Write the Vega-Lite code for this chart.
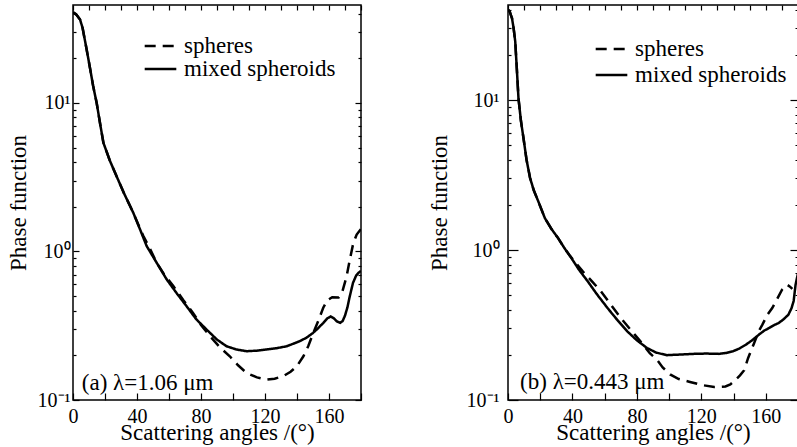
{
  "$schema": "https://vega.github.io/schema/vega-lite/v6.json",
  "padding": {"left": 6, "top": -2, "right": 0, "bottom": 0},
  "spacing": 62,
  "background": "white",
  "config": {
    "font": "Liberation Serif",
    "view": {"stroke": "black", "strokeWidth": 1.5},
    "axis": {"domain": false, "grid": false, "tickColor": "black", "tickWidth": 1.2, "labelColor": "black", "titleColor": "black", "labelFont": "Liberation Serif", "titleFont": "Liberation Serif", "titleFontWeight": "normal", "labelFontSize": 20, "titleFontSize": 23},
    "legend": {"labelFont": "Liberation Serif", "labelFontSize": 23, "labelColor": "black", "symbolStrokeColor": "black", "symbolStrokeWidth": 2.5, "symbolSize": 1000, "symbolType": "stroke", "padding": 0, "offset": 0, "rowPadding": 0, "labelOffset": 6}
  },
  "datasets": {
    "a": [
      {"series": "mixed spheroids", "angle": 0, "value": 40.9},
      {"series": "mixed spheroids", "angle": 2, "value": 39.5},
      {"series": "mixed spheroids", "angle": 4.4, "value": 36.5},
      {"series": "mixed spheroids", "angle": 6, "value": 32},
      {"series": "mixed spheroids", "angle": 8.5, "value": 23},
      {"series": "mixed spheroids", "angle": 10.5, "value": 17.5},
      {"series": "mixed spheroids", "angle": 12.6, "value": 13},
      {"series": "mixed spheroids", "angle": 14.8, "value": 10},
      {"series": "mixed spheroids", "angle": 17, "value": 7.2},
      {"series": "mixed spheroids", "angle": 19, "value": 5.4},
      {"series": "mixed spheroids", "angle": 23, "value": 4.1},
      {"series": "mixed spheroids", "angle": 27.3, "value": 3.2},
      {"series": "mixed spheroids", "angle": 32, "value": 2.45},
      {"series": "mixed spheroids", "angle": 37.7, "value": 1.82},
      {"series": "mixed spheroids", "angle": 42, "value": 1.4},
      {"series": "mixed spheroids", "angle": 46, "value": 1.09},
      {"series": "mixed spheroids", "angle": 52, "value": 0.85},
      {"series": "mixed spheroids", "angle": 58.5, "value": 0.65},
      {"series": "mixed spheroids", "angle": 65, "value": 0.52},
      {"series": "mixed spheroids", "angle": 71, "value": 0.428},
      {"series": "mixed spheroids", "angle": 77, "value": 0.35},
      {"series": "mixed spheroids", "angle": 83.5, "value": 0.298},
      {"series": "mixed spheroids", "angle": 90, "value": 0.255},
      {"series": "mixed spheroids", "angle": 96, "value": 0.23},
      {"series": "mixed spheroids", "angle": 102, "value": 0.219},
      {"series": "mixed spheroids", "angle": 108.5, "value": 0.213},
      {"series": "mixed spheroids", "angle": 115, "value": 0.215},
      {"series": "mixed spheroids", "angle": 121, "value": 0.219},
      {"series": "mixed spheroids", "angle": 127, "value": 0.223},
      {"series": "mixed spheroids", "angle": 133.5, "value": 0.23},
      {"series": "mixed spheroids", "angle": 138, "value": 0.24},
      {"series": "mixed spheroids", "angle": 141.7, "value": 0.249},
      {"series": "mixed spheroids", "angle": 146, "value": 0.263},
      {"series": "mixed spheroids", "angle": 150, "value": 0.283},
      {"series": "mixed spheroids", "angle": 153, "value": 0.303},
      {"series": "mixed spheroids", "angle": 156.5, "value": 0.331},
      {"series": "mixed spheroids", "angle": 159, "value": 0.355},
      {"series": "mixed spheroids", "angle": 161, "value": 0.365},
      {"series": "mixed spheroids", "angle": 163, "value": 0.355},
      {"series": "mixed spheroids", "angle": 165, "value": 0.338},
      {"series": "mixed spheroids", "angle": 167, "value": 0.331},
      {"series": "mixed spheroids", "angle": 168.5, "value": 0.34},
      {"series": "mixed spheroids", "angle": 170, "value": 0.37},
      {"series": "mixed spheroids", "angle": 171.5, "value": 0.42},
      {"series": "mixed spheroids", "angle": 173, "value": 0.5},
      {"series": "mixed spheroids", "angle": 175, "value": 0.615},
      {"series": "mixed spheroids", "angle": 177, "value": 0.69},
      {"series": "mixed spheroids", "angle": 178.5, "value": 0.72},
      {"series": "mixed spheroids", "angle": 180, "value": 0.74},
      {"series": "spheres", "angle": 0, "value": 40.9},
      {"series": "spheres", "angle": 2, "value": 39.5},
      {"series": "spheres", "angle": 4.4, "value": 36.5},
      {"series": "spheres", "angle": 6, "value": 32},
      {"series": "spheres", "angle": 8.5, "value": 23},
      {"series": "spheres", "angle": 10.5, "value": 17.5},
      {"series": "spheres", "angle": 12.6, "value": 13},
      {"series": "spheres", "angle": 14.8, "value": 10},
      {"series": "spheres", "angle": 17, "value": 7.2},
      {"series": "spheres", "angle": 19, "value": 5.4},
      {"series": "spheres", "angle": 23, "value": 4.1},
      {"series": "spheres", "angle": 27.3, "value": 3.2},
      {"series": "spheres", "angle": 32, "value": 2.45},
      {"series": "spheres", "angle": 37.7, "value": 1.82},
      {"series": "spheres", "angle": 41, "value": 1.5},
      {"series": "spheres", "angle": 44, "value": 1.27},
      {"series": "spheres", "angle": 48, "value": 1.05},
      {"series": "spheres", "angle": 52.3, "value": 0.84},
      {"series": "spheres", "angle": 57, "value": 0.7},
      {"series": "spheres", "angle": 62.7, "value": 0.585},
      {"series": "spheres", "angle": 69, "value": 0.47},
      {"series": "spheres", "angle": 75, "value": 0.386},
      {"series": "spheres", "angle": 80, "value": 0.32},
      {"series": "spheres", "angle": 85.6, "value": 0.269},
      {"series": "spheres", "angle": 92, "value": 0.225},
      {"series": "spheres", "angle": 98, "value": 0.197},
      {"series": "spheres", "angle": 103, "value": 0.172},
      {"series": "spheres", "angle": 108.5, "value": 0.152},
      {"series": "spheres", "angle": 115, "value": 0.142},
      {"series": "spheres", "angle": 121, "value": 0.137},
      {"series": "spheres", "angle": 126, "value": 0.139},
      {"series": "spheres", "angle": 131.6, "value": 0.145},
      {"series": "spheres", "angle": 136, "value": 0.155},
      {"series": "spheres", "angle": 139.9, "value": 0.169},
      {"series": "spheres", "angle": 144, "value": 0.197},
      {"series": "spheres", "angle": 147, "value": 0.23},
      {"series": "spheres", "angle": 150.2, "value": 0.283},
      {"series": "spheres", "angle": 153.5, "value": 0.345},
      {"series": "spheres", "angle": 156.4, "value": 0.418},
      {"series": "spheres", "angle": 159, "value": 0.47},
      {"series": "spheres", "angle": 162, "value": 0.492},
      {"series": "spheres", "angle": 166, "value": 0.49},
      {"series": "spheres", "angle": 168, "value": 0.52},
      {"series": "spheres", "angle": 171, "value": 0.68},
      {"series": "spheres", "angle": 173, "value": 0.88},
      {"series": "spheres", "angle": 175.2, "value": 1.14},
      {"series": "spheres", "angle": 177.3, "value": 1.3},
      {"series": "spheres", "angle": 180, "value": 1.42}
    ],
    "b": [
      {"series": "mixed spheroids", "angle": 0, "value": 40},
      {"series": "mixed spheroids", "angle": 1, "value": 39},
      {"series": "mixed spheroids", "angle": 2.5, "value": 35},
      {"series": "mixed spheroids", "angle": 3.5, "value": 30},
      {"series": "mixed spheroids", "angle": 4.5, "value": 24.5},
      {"series": "mixed spheroids", "angle": 5.5, "value": 16},
      {"series": "mixed spheroids", "angle": 6.5, "value": 10.3},
      {"series": "mixed spheroids", "angle": 8, "value": 7.3},
      {"series": "mixed spheroids", "angle": 9.6, "value": 5.58},
      {"series": "mixed spheroids", "angle": 11.5, "value": 4},
      {"series": "mixed spheroids", "angle": 13.7, "value": 3.02},
      {"series": "mixed spheroids", "angle": 16, "value": 2.5},
      {"series": "mixed spheroids", "angle": 18.8, "value": 2.11},
      {"series": "mixed spheroids", "angle": 22.9, "value": 1.63},
      {"series": "mixed spheroids", "angle": 27, "value": 1.38},
      {"series": "mixed spheroids", "angle": 31.1, "value": 1.2},
      {"series": "mixed spheroids", "angle": 35, "value": 1.03},
      {"series": "mixed spheroids", "angle": 39.3, "value": 0.885},
      {"series": "mixed spheroids", "angle": 44, "value": 0.74},
      {"series": "mixed spheroids", "angle": 49.5, "value": 0.618},
      {"series": "mixed spheroids", "angle": 55, "value": 0.51},
      {"series": "mixed spheroids", "angle": 61.8, "value": 0.41},
      {"series": "mixed spheroids", "angle": 68, "value": 0.34},
      {"series": "mixed spheroids", "angle": 74, "value": 0.287},
      {"series": "mixed spheroids", "angle": 80, "value": 0.25},
      {"series": "mixed spheroids", "angle": 86.3, "value": 0.222},
      {"series": "mixed spheroids", "angle": 92, "value": 0.207},
      {"series": "mixed spheroids", "angle": 98.6, "value": 0.199},
      {"series": "mixed spheroids", "angle": 107, "value": 0.201},
      {"series": "mixed spheroids", "angle": 115, "value": 0.203},
      {"series": "mixed spheroids", "angle": 123, "value": 0.204},
      {"series": "mixed spheroids", "angle": 131, "value": 0.203},
      {"series": "mixed spheroids", "angle": 135.5, "value": 0.206},
      {"series": "mixed spheroids", "angle": 139.5, "value": 0.211},
      {"series": "mixed spheroids", "angle": 143.5, "value": 0.22},
      {"series": "mixed spheroids", "angle": 147.7, "value": 0.234},
      {"series": "mixed spheroids", "angle": 151.5, "value": 0.25},
      {"series": "mixed spheroids", "angle": 155.8, "value": 0.273},
      {"series": "mixed spheroids", "angle": 159, "value": 0.29},
      {"series": "mixed spheroids", "angle": 162, "value": 0.302},
      {"series": "mixed spheroids", "angle": 165, "value": 0.315},
      {"series": "mixed spheroids", "angle": 168, "value": 0.326},
      {"series": "mixed spheroids", "angle": 171, "value": 0.345},
      {"series": "mixed spheroids", "angle": 174, "value": 0.37},
      {"series": "mixed spheroids", "angle": 176, "value": 0.41},
      {"series": "mixed spheroids", "angle": 177.3, "value": 0.457},
      {"series": "mixed spheroids", "angle": 178.5, "value": 0.587},
      {"series": "mixed spheroids", "angle": 180, "value": 0.7},
      {"series": "spheres", "angle": 0, "value": 40},
      {"series": "spheres", "angle": 1, "value": 39},
      {"series": "spheres", "angle": 2.5, "value": 35},
      {"series": "spheres", "angle": 3.5, "value": 30},
      {"series": "spheres", "angle": 4.5, "value": 24.5},
      {"series": "spheres", "angle": 5.5, "value": 16},
      {"series": "spheres", "angle": 6.5, "value": 10.3},
      {"series": "spheres", "angle": 8, "value": 7.3},
      {"series": "spheres", "angle": 9.6, "value": 5.58},
      {"series": "spheres", "angle": 11.5, "value": 4},
      {"series": "spheres", "angle": 13.7, "value": 3.02},
      {"series": "spheres", "angle": 16, "value": 2.5},
      {"series": "spheres", "angle": 18.8, "value": 2.11},
      {"series": "spheres", "angle": 22.9, "value": 1.63},
      {"series": "spheres", "angle": 27, "value": 1.38},
      {"series": "spheres", "angle": 31.1, "value": 1.2},
      {"series": "spheres", "angle": 35, "value": 1.03},
      {"series": "spheres", "angle": 38, "value": 0.93},
      {"series": "spheres", "angle": 42, "value": 0.82},
      {"series": "spheres", "angle": 46.4, "value": 0.72},
      {"series": "spheres", "angle": 52, "value": 0.62},
      {"series": "spheres", "angle": 57.7, "value": 0.53},
      {"series": "spheres", "angle": 64, "value": 0.43},
      {"series": "spheres", "angle": 70, "value": 0.352},
      {"series": "spheres", "angle": 76, "value": 0.295},
      {"series": "spheres", "angle": 82.2, "value": 0.246},
      {"series": "spheres", "angle": 88, "value": 0.205},
      {"series": "spheres", "angle": 92.4, "value": 0.186},
      {"series": "spheres", "angle": 96, "value": 0.165},
      {"series": "spheres", "angle": 100.6, "value": 0.148},
      {"series": "spheres", "angle": 106, "value": 0.138},
      {"series": "spheres", "angle": 113, "value": 0.132},
      {"series": "spheres", "angle": 120, "value": 0.126},
      {"series": "spheres", "angle": 128, "value": 0.122},
      {"series": "spheres", "angle": 135, "value": 0.123},
      {"series": "spheres", "angle": 138, "value": 0.127},
      {"series": "spheres", "angle": 141.5, "value": 0.137},
      {"series": "spheres", "angle": 144, "value": 0.146},
      {"series": "spheres", "angle": 146.6, "value": 0.158},
      {"series": "spheres", "angle": 149, "value": 0.19},
      {"series": "spheres", "angle": 152.8, "value": 0.24},
      {"series": "spheres", "angle": 155.8, "value": 0.29},
      {"series": "spheres", "angle": 157.9, "value": 0.318},
      {"series": "spheres", "angle": 161, "value": 0.37},
      {"series": "spheres", "angle": 164, "value": 0.41},
      {"series": "spheres", "angle": 167, "value": 0.47},
      {"series": "spheres", "angle": 170.1, "value": 0.544},
      {"series": "spheres", "angle": 173.2, "value": 0.587},
      {"series": "spheres", "angle": 175, "value": 0.57},
      {"series": "spheres", "angle": 176.5, "value": 0.55}
    ]
  },
  "resolve": {"scale": {"x": "independent", "y": "independent", "strokeDash": "independent"}, "legend": {"strokeDash": "independent"}},
  "hconcat": [
    {
      "width": 288,
      "height": 395,
      "resolve": {"axis": {"x": "independent", "y": "independent"}},
      "layer": [
        {
          "data": {"name": "a"},
          "mark": {"type": "line", "color": "black", "strokeWidth": 2.5, "clip": true},
          "encoding": {
            "x": {"field": "angle", "type": "quantitative", "scale": {"domain": [0, 180], "nice": false, "zero": false},
              "axis": {"orient": "bottom", "title": "Scattering angles /(°)", "values": [0, 20, 40, 60, 80, 100, 120, 140, 160, 180], "labelExpr": "datum.value % 40 == 0 && datum.value < 180 ? datum.label : ''", "tickSize": -7, "labelPadding": 13, "titlePadding": -5, "labelFlush": false, "labelOverlap": false}},
            "y": {"field": "value", "type": "quantitative", "scale": {"type": "log", "domain": [0.1, 45.7], "nice": false},
              "axis": {"orient": "left", "title": "Phase function", "values": [0.1, 0.2, 0.3, 0.4, 0.5, 0.6, 0.7, 0.8, 0.9, 1, 2, 3, 4, 5, 6, 7, 8, 9, 10, 20, 30, 40], "labelExpr": "datum.value == 0.1 ? '10⁻¹' : datum.value == 1 ? '10⁰' : datum.value == 10 ? '10¹' : ''", "tickSize": {"condition": {"test": "datum.value == 0.1 || datum.value == 1 || datum.value == 10", "value": -6}, "value": -3}, "labelPadding": 9, "titlePadding": 7, "labelOverlap": false, "labelFlush": false}},
            "strokeDash": {"field": "series", "type": "nominal", "scale": {"domain": ["spheres", "mixed spheroids"], "range": [[11, 7], [1, 0]]},
              "legend": {"title": null, "orient": "none", "legendX": 70, "legendY": 30, "clipHeight": 22, "rowPadding": -3}}
          }
        },
        {
          "data": {"name": "a"},
          "mark": {"type": "point", "opacity": 0},
          "encoding": {
            "x": {"field": "angle", "type": "quantitative", "axis": {"orient": "top", "title": null, "labels": false, "values": [0, 10, 20, 30, 40, 50, 60, 70, 80, 90, 100, 110, 120, 130, 140, 150, 160, 170, 180], "tickSize": -5}},
            "y": {"field": "value", "type": "quantitative", "axis": {"orient": "right", "title": null, "labels": false, "values": [0.1, 0.2, 0.3, 0.4, 0.5, 0.6, 0.7, 0.8, 0.9, 1, 2, 3, 4, 5, 6, 7, 8, 9, 10, 20, 30, 40], "tickSize": {"condition": {"test": "datum.value == 0.1 || datum.value == 1 || datum.value == 10", "value": -6}, "value": -3}}}
          }
        },
        {
          "data": {"values": [{"label": "(a) λ=1.06 μm"}]},
          "mark": {"type": "text", "align": "left", "baseline": "middle", "fontSize": 23, "font": "Liberation Serif", "color": "black"},
          "encoding": {
            "x": {"datum": 5.5, "type": "quantitative", "axis": null},
            "y": {"datum": 0.131, "type": "quantitative", "axis": null},
            "text": {"field": "label"}
          }
        }
      ]
    },
    {
      "width": 290,
      "height": 395,
      "resolve": {"axis": {"x": "independent", "y": "independent"}},
      "layer": [
        {
          "data": {"name": "b"},
          "mark": {"type": "line", "color": "black", "strokeWidth": 2.5, "clip": true},
          "encoding": {
            "x": {"field": "angle", "type": "quantitative", "scale": {"domain": [0, 180], "nice": false, "zero": false},
              "axis": {"orient": "bottom", "title": "Scattering angles /(°)", "values": [0, 20, 40, 60, 80, 100, 120, 140, 160, 180], "labelExpr": "datum.value % 40 == 0 && datum.value < 180 ? datum.label : ''", "tickSize": -7, "labelPadding": 13, "titlePadding": -5, "labelFlush": false, "labelOverlap": false}},
            "y": {"field": "value", "type": "quantitative", "scale": {"type": "log", "domain": [0.1, 43], "nice": false},
              "axis": {"orient": "left", "title": "Phase function", "values": [0.1, 0.2, 0.3, 0.4, 0.5, 0.6, 0.7, 0.8, 0.9, 1, 2, 3, 4, 5, 6, 7, 8, 9, 10, 20, 30, 40], "labelExpr": "datum.value == 0.1 ? '10⁻¹' : datum.value == 1 ? '10⁰' : datum.value == 10 ? '10¹' : ''", "tickSize": {"condition": {"test": "datum.value == 0.1 || datum.value == 1 || datum.value == 10", "value": -10}, "value": -3}, "labelPadding": 19, "titlePadding": 15, "labelOverlap": false, "labelFlush": false}},
            "strokeDash": {"field": "series", "type": "nominal", "scale": {"domain": ["spheres", "mixed spheroids"], "range": [[11, 7], [1, 0]]},
              "legend": {"title": null, "orient": "none", "legendX": 86, "legendY": 31, "clipHeight": 26}}
          }
        },
        {
          "data": {"name": "b"},
          "mark": {"type": "point", "opacity": 0},
          "encoding": {
            "x": {"field": "angle", "type": "quantitative", "axis": {"orient": "top", "title": null, "labels": false, "values": [0, 10, 20, 30, 40, 50, 60, 70, 80, 90, 100, 110, 120, 130, 140, 150, 160, 170, 180], "tickSize": -5}},
            "y": {"field": "value", "type": "quantitative", "axis": {"orient": "right", "title": null, "labels": false, "values": [0.1, 0.2, 0.3, 0.4, 0.5, 0.6, 0.7, 0.8, 0.9, 1, 2, 3, 4, 5, 6, 7, 8, 9, 10, 20, 30, 40], "tickSize": {"condition": {"test": "datum.value == 0.1 || datum.value == 1 || datum.value == 10", "value": -8}, "value": -3}}}
          }
        },
        {
          "data": {"values": [{"label": "(b) λ=0.443 μm"}]},
          "mark": {"type": "text", "align": "left", "baseline": "middle", "fontSize": 23, "font": "Liberation Serif", "color": "black"},
          "encoding": {
            "x": {"datum": 7.5, "type": "quantitative", "axis": null},
            "y": {"datum": 0.132, "type": "quantitative", "axis": null},
            "text": {"field": "label"}
          }
        }
      ]
    }
  ]
}
